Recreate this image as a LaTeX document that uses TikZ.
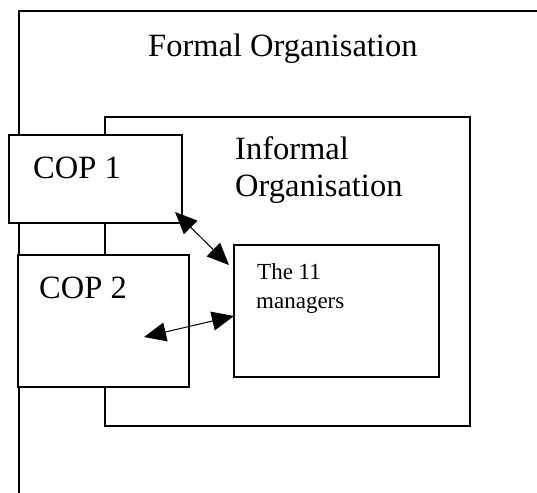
\documentclass[tikz,border=0pt]{standalone}
\usepackage{fontspec}
\setmainfont{Liberation Serif}
\usetikzlibrary{arrows.meta}
\begin{document}
\begin{tikzpicture}[x=1pt,y=-1pt,
  box/.style={draw, line width=1.3pt, fill=white},
  big/.style={font=\fontsize{32.5}{37}\selectfont, inner sep=0pt, anchor=base west},
  small/.style={font=\fontsize{23}{29}\selectfont, inner sep=0pt, anchor=base west},
  link/.style={line width=1pt, {Triangle[length=22pt,width=19pt]}-{Triangle[length=22pt,width=19pt]}}]
\useasboundingbox (0,0) rectangle (537,492);
\clip (0,0) rectangle (537,492);
% outer (formal) box, extends beyond the picture at right and bottom
\draw[line width=1.3pt] (19,520) -- (19,11) -- (560,11);
\node[big] (formal) at (148,57) {Formal Organisation};
% informal organisation
\draw[box] (105,117) rectangle (470,426);
\node[big] (inf1) at (235,159) {Informal};
\node[big] (inf2) at (235,196) {Organisation};
% COPs
\draw[box] (9,135) rectangle (182,223);
\node[big] (cop1) at (33,178) {COP 1};
\draw[box] (18,255) rectangle (189,387);
\node[big] (cop2) at (39,298) {COP 2};
% managers
\draw[box] (234,245) rectangle (439,377);
\node[small] (m1) at (257,279) {The 11};
\node[small] (m2) at (256,308) {managers};
% arrows
\coordinate (a1s) at (175,212);
\coordinate (a1e) at (229,265);
\coordinate (a2s) at (144,337);
\coordinate (a2e) at (234,316);
\draw[link] (a1s) -- (a1e);
\draw[link] (a2s) -- (a2e);
\end{tikzpicture}
\end{document}
